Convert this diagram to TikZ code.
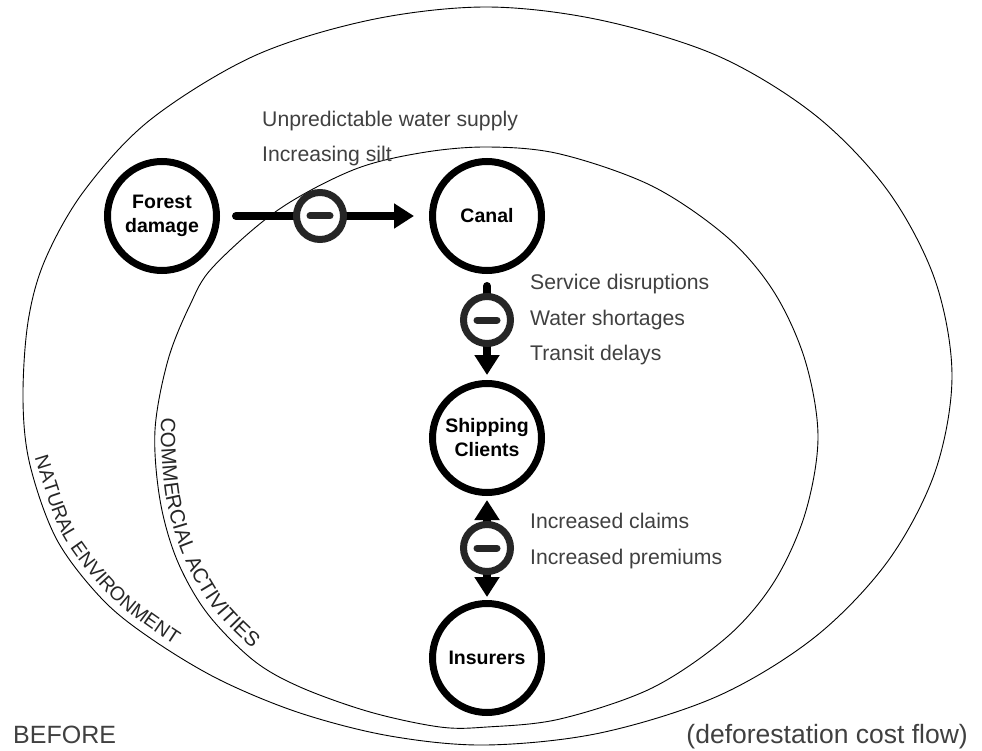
\documentclass[tikz,border=0pt]{standalone}
\usepackage{fontspec}
\setmainfont{Liberation Sans}
\usetikzlibrary{arrows.meta,decorations.text}

\begin{document}
\begin{tikzpicture}[x=1pt,y=-1pt,
  actor/.style={circle, draw=black, line width=7pt, fill=white,
    minimum size=109pt, inner sep=0pt, align=center,
    font=\fontsize{19.5}{24}\selectfont\bfseries},
  minusbox/.style={circle, draw=black!85, line width=7pt, fill=white,
    minimum size=47pt, inner sep=0pt,
    path picture={\draw[black!85, line width=7pt, line cap=round]
      ([xshift=-10pt]path picture bounding box.center) --
      ([xshift=10pt]path picture bounding box.center);}},
  flow/.style={line width=8pt, black, line cap=round},
  tip/.style={-{Triangle[length=20pt,width=24pt]}},
  bothtips/.style={{Triangle[length=20pt,width=24pt]}-{Triangle[length=20pt,width=24pt]}},
  note/.style={anchor=base west, inner sep=0pt, text=black!75,
    font=\fontsize{21.2}{24}\selectfont},
  corner/.style={inner sep=0pt, text=black!75},
  boundary/.style={draw=black, line width=0.9pt}
]
\newcommand{\outerfont}{\fontsize{19.5}{20}\selectfont}
\newcommand{\innerfont}{\fontsize{20.6}{21}\selectfont}
\useasboundingbox (0,0) rectangle (982,751);

% natural environment boundary
\draw[boundary] plot[smooth cycle, tension=0.55] coordinates {
  (486,7) (600,20) (718,56) (815,115) (888,191) (935,280) (952,376)
  (935,472) (888,561) (815,637) (718,696) (600,733) (486,745) (390,736)
  (300,713) (220,680) (153,640) (103,600) (57,540) (30,465) (23,400)
  (28,322) (45,260) (84,191) (150,120) (254,56) (370,20)};
% commercial activities boundary
\draw[boundary] plot[smooth cycle, tension=0.55] coordinates {
  (487,147) (560,154) (652,186) (727,237) (774,292) (805,360) (818,437)
  (805,514) (774,582) (727,637) (652,688) (560,719) (487,727) (440,727)
  (370,712) (300,687) (253,660) (207,613) (177,560) (160,500) (155,430)
  (168,360) (190,305) (213,267) (278,210) (353,170) (420,153)};

% domain names along the boundaries
\path[decorate, decoration={text along path,
    text={|\outerfont\color{black!85}|NATURAL ENVIRONMENT}}]
  plot[smooth, tension=0.55] coordinates {
  (36,458) (38,468) (63,536) (108,594) (157,633) (223,673) (302,706)};
\path[decorate, decoration={text along path,
    text={|\innerfont\color{black!85}|COMMERCIAL ACTIVITIES}}]
  plot[smooth, tension=0.55] coordinates {
  (162,418) (161,440) (166,498) (183,555) (212,607) (257,652) (305,680)};

% actors
\node[actor] (forest)    at (162,216) {Forest\\damage};
\node[actor] (canal)     at (487,216) {Canal};
\node[actor] (shipping)  at (487,438) {Shipping\\Clients};
\node[actor] (insurers)  at (487,658) {Insurers};

% cost flows
\draw[flow, tip, shorten <=16pt, shorten >=15pt] (forest) -- (canal);
\draw[flow, tip, shorten <=12pt, shorten >=5pt] (canal) -- (shipping);
\draw[flow, bothtips, shorten <=4pt, shorten >=3pt] (shipping) -- (insurers);

% negative-effect markers
\node[minusbox] (m1) at (320,216) {};
\node[minusbox] (m2) at (487,320) {};
\node[minusbox] (m3) at (487,548) {};

% effect labels
\node[note] (l1) at (262,127) {Unpredictable water supply};
\node[note] (l2) at (262,162) {Increasing silt};
\node[note] (l3) at (530,289) {Service disruptions};
\node[note] (l4) at (530,325) {Water shortages};
\node[note] (l5) at (530,360) {Transit delays};
\node[note] (l6) at (530,528) {Increased claims};
\node[note] (l7) at (530,564) {Increased premiums};

% captions
\node[corner, anchor=base west, font=\fontsize{25}{28}\selectfont]
  (before) at (13,743) {BEFORE};
\node[corner, anchor=base east, font=\fontsize{26.5}{28}\selectfont]
  (caption) at (968,743) {(deforestation cost flow)};
\end{tikzpicture}
\end{document}
